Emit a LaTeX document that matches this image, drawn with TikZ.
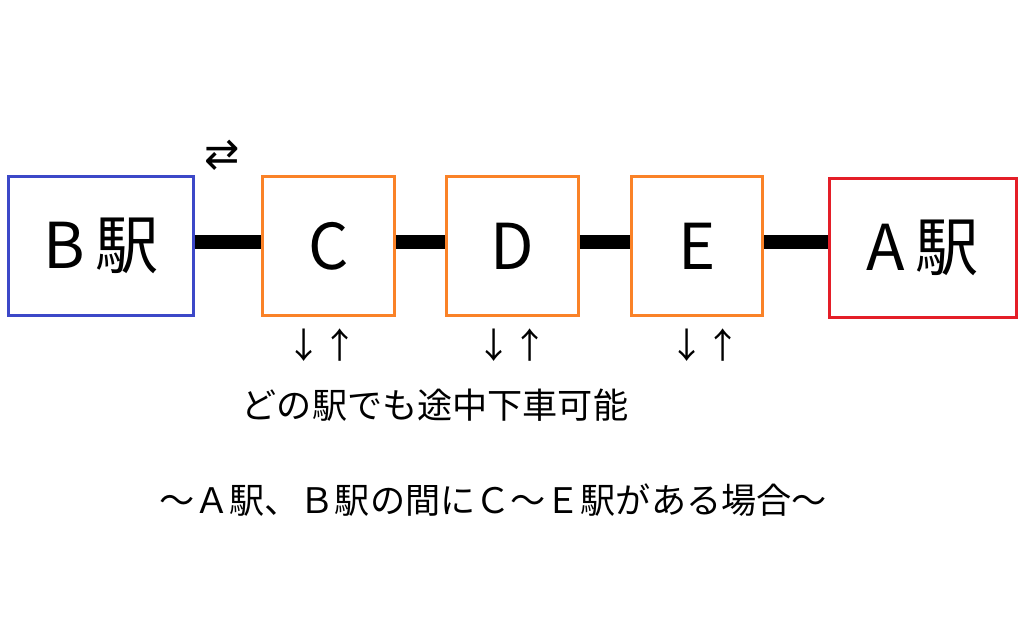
\documentclass[tikz,border=0pt]{standalone}
\usepackage{fontspec}
\setmainfont{Noto Sans CJK JP}
\usetikzlibrary{positioning}
\definecolor{stblue}{RGB}{60,72,200}
\definecolor{storange}{RGB}{250,130,40}
\definecolor{stred}{RGB}{228,30,40}
\tikzset{
  station/.style={draw, line width=1.8pt, minimum height=79pt, font=\fontsize{36}{40}\selectfont},
  track/.style={line width=8pt},
  note/.style={font=\fontsize{20}{24}\selectfont}
}
\begin{document}
\begin{tikzpicture}[x=0.02cm,y=-0.02cm]
\useasboundingbox (0,0) rectangle (1024,643);
\node[station, stblue, minimum width=105pt, text=black] (B) at (101,246) {B\,駅};
\node[station, storange, minimum width=75pt, text=black] (C) at (328.5,246) {C};
\node[station, storange, minimum width=75pt, text=black] (D) at (512.5,246) {D};
\node[station, storange, minimum width=75pt, text=black] (E) at (697,246) {E};
\node[station, stred, minimum width=106pt, text=black] (A) at (923,248) {A\,駅};
\draw[track] (B.east |- 0,242) -- (C.west |- 0,242);
\draw[track] (C.east |- 0,242) -- (D.west |- 0,242);
\draw[track] (D.east |- 0,242) -- (E.west |- 0,242);
\draw[track] (E.east |- 0,242) -- (A.west |- 0,242);
\node[font=\fontsize{24}{24}\selectfont\fontspec{DejaVu Sans}] (ba) at (222,155) {⇄};
\node[note] (cv) at (322,345) {↓↑};
\node[note] (dv) at (512,345) {↓↑};
\node[note] (ev) at (705,345) {↓↑};
\node[note] (any) at (435,405) {どの駅でも途中下車可能};
\node[note] (title) at (493,500) {～Ａ駅、Ｂ駅の間にＣ～Ｅ駅がある場合～};
\end{tikzpicture}
\end{document}
